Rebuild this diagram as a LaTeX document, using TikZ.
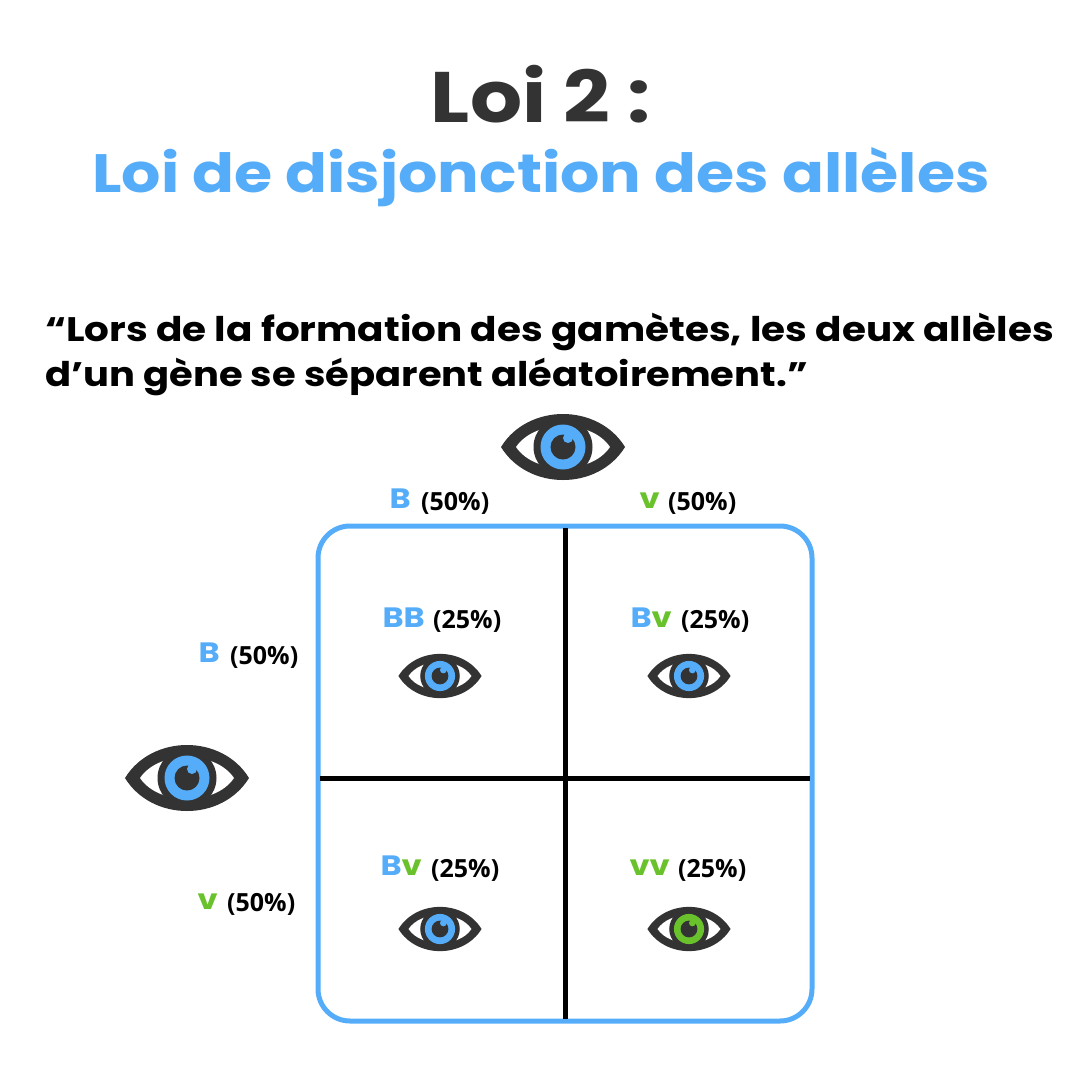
\documentclass[tikz,border=0pt]{standalone}
\usepackage{fontspec}
\setmainfont{Poppins}
\newfontfamily\widefont[FakeStretch=1.145]{Poppins}
\newfontfamily\secondfont[FakeStretch=1.131]{Poppins}
\newfontfamily\pctfont{Open Sans}
\definecolor{dk}{HTML}{333333}
\definecolor{bl}{HTML}{55ADF9}
\definecolor{gn}{HTML}{69C22B}
\tikzset{
 eyeicon/.pic={
  \fill[dk] (-62,0) .. controls (-35,-44) and (35,-44) .. (62,0) .. controls (35,44) and (-35,44) .. (-62,0) -- cycle;
  \fill[white] (-47,0) .. controls (-28,-28) and (28,-28) .. (47,0) .. controls (28,28) and (-28,28) .. (-47,0) -- cycle;
  \fill[dk] (0,0) circle (29.5);
  \fill[pic actions] (0,0) circle (22.5);
  \fill[dk] (0,0) circle (12.5);
  \fill[pic actions] (5,-9) circle (5);
 },
 title/.style={inner sep=0pt},
 lab/.style={font=\widefont\fontsize{28}{28}\selectfont\bfseries,inner sep=0pt},
 pct/.style={font=\pctfont\fontsize{25}{25}\selectfont\bfseries,text=black,inner sep=0pt,anchor=west},
 quote/.style={font=\widefont\fontsize{34}{34}\selectfont\bfseries,text=black,inner sep=0pt,anchor=west},
}
\begin{document}
\begin{tikzpicture}[x=1pt,y=-1pt]
\useasboundingbox (0,0) rectangle (1080,1080);
\fill[white] (0,0) rectangle (1080,1080);
\node[title,font=\widefont\fontsize{71.5}{71.5}\selectfont\bfseries,text=dk] (t1) at (541,94) {Loi 2 :};
\node[title,font=\widefont\fontsize{54}{54}\selectfont\bfseries,text=bl] (t2) at (541,177) {Loi de disjonction des allèles};
\node[quote] (q1) at (45,332) {“Lors de la formation des gamètes, les deux allèles};
\node[quote,font=\secondfont\fontsize{34}{34}\selectfont\bfseries] (q2) at (45,377) {d’un gène se séparent aléatoirement.”};
\pic[fill=bl] at (563,447) {eyeicon};
\pic[fill=bl] at (187,778) {eyeicon};
\draw[bl,line width=5pt,rounded corners=32pt] (318,526) rectangle (812,1021);
\draw[black,line width=5pt] (565,528) -- (565,1019);
\draw[black,line width=5pt] (320,778) -- (810,778);
\node[lab,text=bl,anchor=east] (a) at (411,499) {B};
\node[pct] (a2) at (421,503) {(50\%)};
\node[lab,text=gn,anchor=east] (b) at (660,501) {v};
\node[pct] (b2) at (668,503) {(50\%)};
\node[lab,text=bl,anchor=east] (c) at (220,653) {B};
\node[pct] (c2) at (230,657) {(50\%)};
\node[lab,text=gn,anchor=east] (d) at (218,902) {v};
\node[pct] (d2) at (227,904) {(50\%)};
\node[lab,text=bl,anchor=east] (e) at (425,618) {BB};
\node[pct] (e2) at (433,621) {(25\%)};
\node[lab,anchor=east] (f) at (672,618) {\textcolor{bl}{B}\textcolor{gn}{v}};
\node[pct] (f2) at (681,621) {(25\%)};
\node[lab,anchor=east] (g) at (422,866) {\textcolor{bl}{B}\textcolor{gn}{v}};
\node[pct] (g2) at (431,870) {(25\%)};
\node[lab,text=gn,anchor=east] (h) at (670,868) {vv};
\node[pct] (h2) at (678,870) {(25\%)};
\pic[fill=bl,scale=0.67] at (440,676) {eyeicon};
\pic[fill=bl,scale=0.67] at (689,676) {eyeicon};
\pic[fill=bl,scale=0.67] at (440,929) {eyeicon};
\pic[fill=gn,scale=0.67] at (689,929) {eyeicon};
\end{tikzpicture}
\end{document}
